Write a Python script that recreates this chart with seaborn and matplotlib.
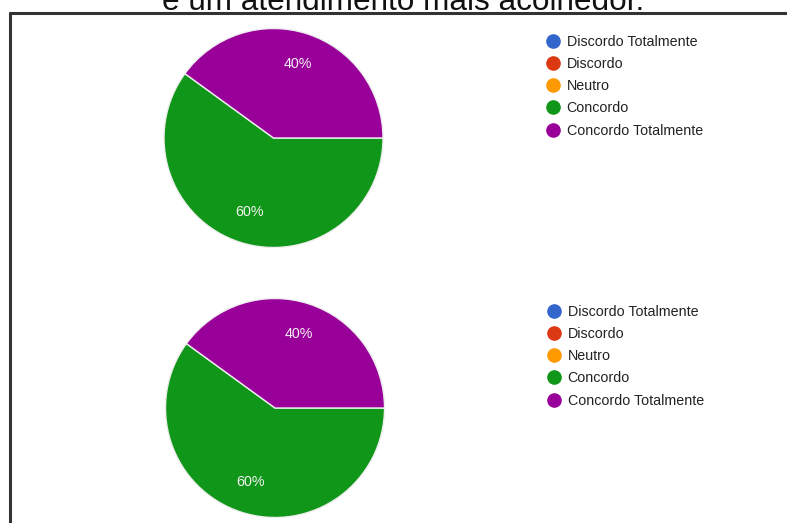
import matplotlib
matplotlib.use("Agg")
import matplotlib.pyplot as plt
from matplotlib.lines import Line2D
import seaborn as sns

# Response categories and the share of answers for each
categories = ["Discordo Totalmente", "Discordo", "Neutro", "Concordo", "Concordo Totalmente"]
question_1 = [0, 0, 0, 60, 40]
question_2 = [0, 0, 0, 60, 40]
palette = ["#3366cc", "#dc3912", "#ff9900", "#109618", "#990099"]
title = "e um atendimento mais acolhedor."

sns.set_theme(style="white")
plt.rcParams["font.family"] = ["Liberation Sans", "DejaVu Sans"]

W, H = 787, 523
fig = plt.figure(figsize=(W / 100, H / 100), dpi=100)
fig.patch.set_facecolor("white")


def px_axes(cx, cy, r):
    return fig.add_axes([(cx - r) / W, (H - cy - r) / H, 2 * r / W, 2 * r / H])


def pct_label(p):
    return f"{p:.0f}%" if p > 0.5 else ""


def draw_pie(ax, values):
    ax.pie(values, colors=palette, startangle=0, counterclock=False,
           autopct=pct_label, pctdistance=0.71,
           wedgeprops=dict(edgecolor="#eeeeee", linewidth=1.0),
           textprops=dict(color="#f4f4f4", fontsize=10.3))
    ax.set_xlim(-1, 1)
    ax.set_ylim(-1, 1)
    ax.set_aspect("equal")
    ax.axis("off")


def draw_legend(x_px, y_px):
    handles = [Line2D([], [], linestyle="none", marker="o", markersize=9.5,
                      markerfacecolor=c, markeredgecolor=c) for c in palette]
    fig.legend(handles, categories, loc="upper left",
               bbox_to_anchor=(x_px / W, 1 - y_px / H),
               frameon=False, fontsize=10.3, labelcolor="#222222",
               handlelength=1.0, handletextpad=0.45, labelspacing=0.575,
               borderpad=0, borderaxespad=0)


ax1 = px_axes(273.5, 138, 109.5)
draw_pie(ax1, question_1)
ax2 = px_axes(275, 408, 109.5)
draw_pie(ax2, question_2)

draw_legend(546, 34.7)
draw_legend(547, 304.7)

# Question text, partly above the top edge
fig.text(403 / W, 1 - 10 / H, title, ha="center", va="baseline",
         fontsize=22.7, color="#111111")

# Frame lines along the top and left edges
fig.add_artist(Line2D([10 / W, 1], [1 - 13 / H, 1 - 13 / H],
                      color="#333333", linewidth=2.2, transform=fig.transFigure))
fig.add_artist(Line2D([10 / W, 10 / W], [0, 1 - 13 / H],
                      color="#333333", linewidth=2.2, transform=fig.transFigure))

fig.savefig("out.png", dpi=100, facecolor="white")
